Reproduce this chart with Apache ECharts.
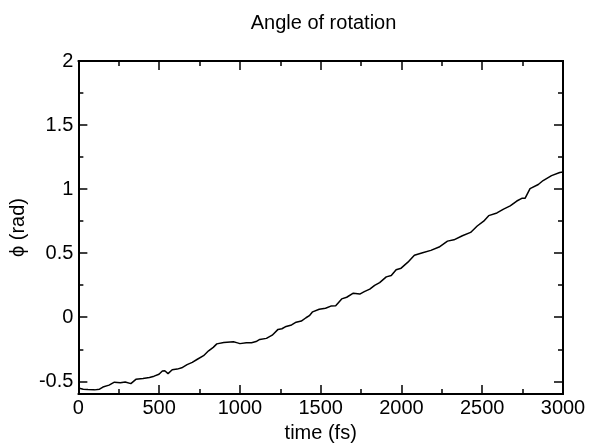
<!DOCTYPE html>
<html>
<head>
<meta charset="utf-8">
<script src="https://cdn.jsdelivr.net/npm/echarts@6/dist/echarts.min.js"></script>
<style>html,body{margin:0;padding:0;background:#fff}#c{width:590px;height:448px}</style>
</head>
<body>
<div id="c"></div>
<script>
const timeFs = [0,30,60,100,131,152,190,223,260,290,325,356,400,440,469,499,520,535,555,581,612,640,673,705,734,775,806,835,857,900,960,985,1000,1040,1072,1100,1123,1164,1200,1236,1260,1286,1320,1348,1380,1409,1430,1450,1491,1530,1563,1593,1630,1661,1702,1742,1770,1804,1834,1865,1906,1937,1967,1998,2040,2080,2131,2182,2233,2285,2325,2377,2428,2469,2509,2540,2591,2632,2673,2714,2745,2765,2796,2847,2877,2929,2980,3000];
const phiRad = [-0.553,-0.562,-0.565,-0.567,-0.562,-0.545,-0.53,-0.507,-0.512,-0.505,-0.518,-0.485,-0.478,-0.47,-0.46,-0.445,-0.42,-0.418,-0.44,-0.41,-0.405,-0.395,-0.37,-0.352,-0.33,-0.3,-0.262,-0.235,-0.208,-0.198,-0.192,-0.2,-0.206,-0.2,-0.199,-0.19,-0.173,-0.165,-0.14,-0.095,-0.09,-0.072,-0.06,-0.039,-0.03,-0.004,0.012,0.042,0.062,0.07,0.087,0.09,0.143,0.156,0.188,0.181,0.2,0.219,0.249,0.27,0.315,0.325,0.371,0.383,0.43,0.484,0.503,0.522,0.548,0.594,0.604,0.636,0.662,0.712,0.75,0.793,0.814,0.844,0.869,0.907,0.928,0.928,1.004,1.036,1.067,1.105,1.13,1.133];
const yMajorTicks = [-0.5,0,0.5,1,1.5,2];
const yMinorTicks = [-0.25,0.25,0.75,1.25,1.75];
const xMin = 0, xMax = 3000, xStep = 500;
const yMin = -0.6, yMax = 2;

const FONT = 'Liberation Sans, Arial, sans-serif';
const FS = 20;
const GRID = {left:74, right:27, top:61, bottom:45};
const chart = echarts.init(document.getElementById('c'), null, {renderer:'canvas'});
const frame = {show:true, onZero:false, lineStyle:{color:'#000', width:2}};
function yAx(pos, vals, len, labels){
  return {
    type:'value', position:pos, min:yMin, max:yMax, offset:0,
    axisLine: frame,
    axisTick:{show:true, inside:true, length:len, lineStyle:{color:'#000', width:1.5}, customValues: vals},
    axisLabel: labels ? {show:true, customValues: vals, color:'#000', fontSize:FS, fontFamily:FONT, margin:5,
      formatter: v => String(v)} : {show:false},
    splitLine:{show:false}
  };
}
const yAxes = [yAx('left', yMajorTicks, 9, true), yAx('left', yMinorTicks, 5, false), yAx('right', yMajorTicks, 9, false), yAx('right', yMinorTicks, 5, false)];
yAxes[0].name = 'ϕ (rad)';
yAxes[0].nameLocation = 'middle';
yAxes[0].nameGap = 44;
yAxes[0].nameTextStyle = {color:'#000', fontSize:FS, fontFamily:FONT};
function xAx(pos, labels){
  return {
    type:'value', position:pos, min:xMin, max:xMax, interval:xStep,
    axisLine: frame,
    axisTick:{show:true, inside:true, length:9, lineStyle:{color:'#000', width:1.5}},
    minorTick:{show:true, splitNumber:2, length:5, lineStyle:{color:'#000', width:1.5}},
    axisLabel: labels ? {show:true, color:'#000', fontSize:FS, fontFamily:FONT, margin:4, formatter: v => String(v)} : {show:false},
    splitLine:{show:false}, minorSplitLine:{show:false}
  };
}
const xAxes = [xAx('bottom', true), xAx('top', false)];
xAxes[0].name = 'time (fs)';
xAxes[0].nameLocation = 'middle';
xAxes[0].nameGap = 22;
xAxes[0].nameTextStyle = {color:'#000', fontSize:FS, fontFamily:FONT};

const plotCenterX = GRID.left + (590 - GRID.left - GRID.right) / 2;
chart.setOption({
  animation:false,
  backgroundColor:'#fff',
  title:{text:'Angle of rotation', left:plotCenterX, textAlign:'center', top:8, textStyle:{color:'#000', fontSize:FS, fontWeight:'normal', fontFamily:FONT}},
  grid:Object.assign({containLabel:false}, GRID),
  xAxis: xAxes,
  yAxis: yAxes,
  series:[{
    type:'line', xAxisIndex:0, yAxisIndex:0, showSymbol:false, symbol:'none',
    lineStyle:{color:'#000', width:1.5},
    data: timeFs.map((t,i)=>[t, phiRad[i]])
  }]
});
</script>
</body>
</html>
